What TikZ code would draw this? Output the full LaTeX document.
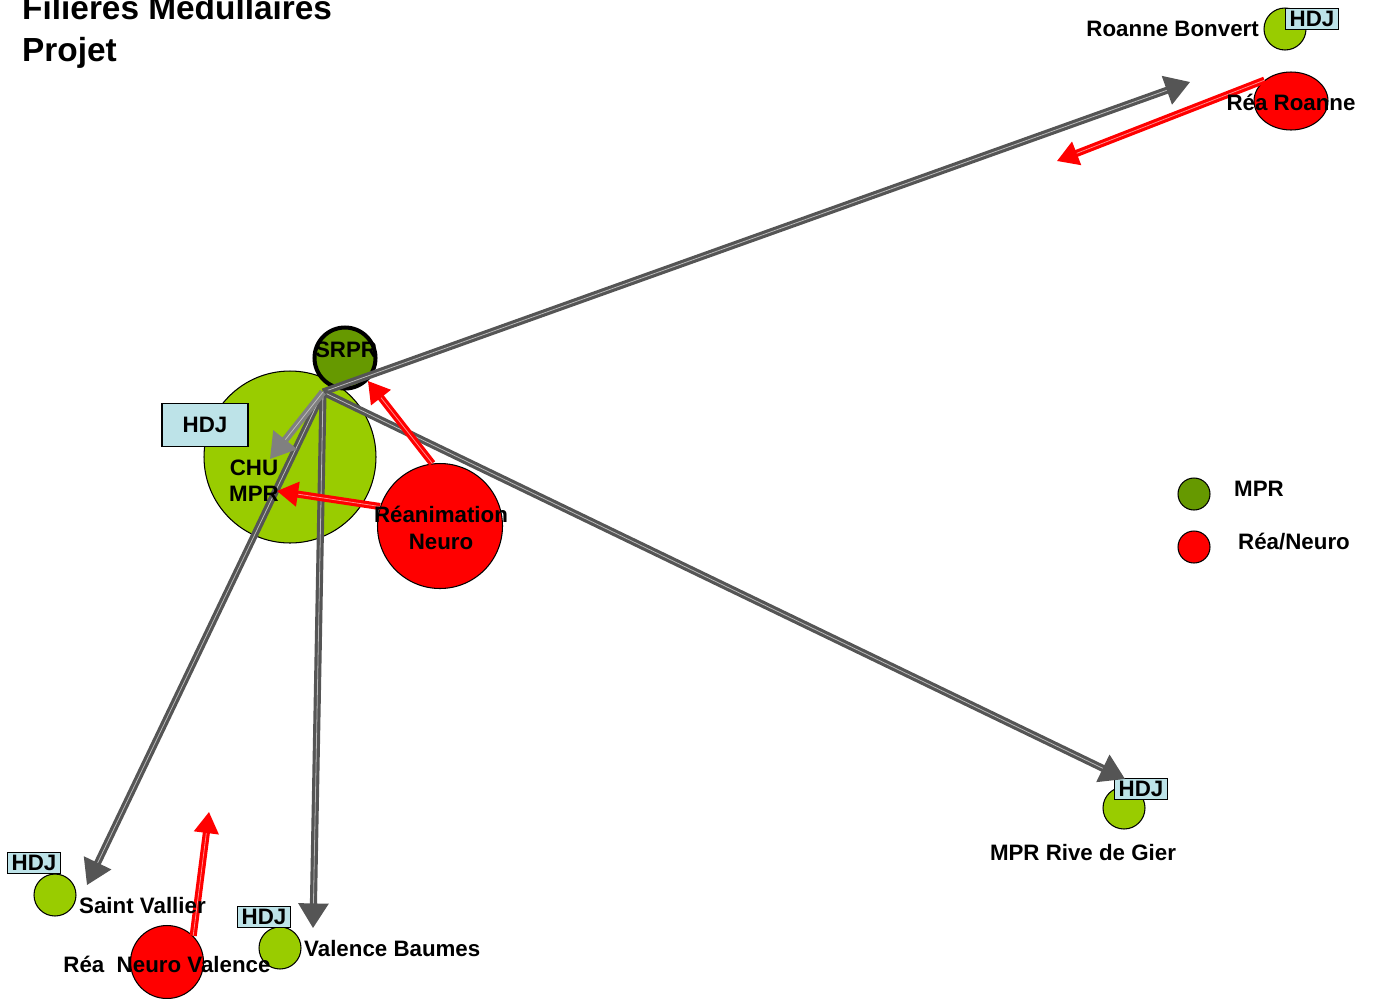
\documentclass[tikz,border=0pt]{standalone}
\usepackage{fontspec}
\setmainfont{Liberation Sans}
\usetikzlibrary{arrows.meta, shapes.geometric}
\definecolor{mprlight}{HTML}{99CC00}
\definecolor{mprdark}{HTML}{669900}
\definecolor{reared}{HTML}{FF0000}
\definecolor{hdjblue}{HTML}{BDE3E8}
\definecolor{arrowgray}{HTML}{555555}
\definecolor{arrowlight}{HTML}{808080}
\begin{document}
\begin{tikzpicture}[
    x=0.02cm,
    y=-0.02cm,
    font=\bfseries\fontsize{12.7}{15}\selectfont,
    site/.style={circle, draw, line width=0.6pt, inner sep=0pt},
    hdj/.style={draw, fill=hdjblue, line width=0.6pt, inner sep=0pt, minimum width=1.06cm, minimum height=0.41cm},
    flux/.style={draw=arrowgray, double=arrowgray!40, double distance=0.45pt, line width=1.8pt,
      -{Triangle[length=14pt, width=17pt]}},
    fluxrea/.style={draw=reared, double=reared!45!white, double distance=0.45pt, line width=1.8pt,
      -{Triangle[length=12pt, width=14pt]}}
  ]
  \useasboundingbox (0,0) rectangle (1378,998);
  % titre
  \node[anchor=base west, font=\bfseries\fontsize{19}{22}\selectfont] (titreA) at (16,19) {Filières Médullaires};
  \node[anchor=base west, font=\bfseries\fontsize{19}{22}\selectfont] (titreB) at (16,61) {Projet};

  % sites
  \node[site, fill=mprlight, minimum size=3.44cm] (chu) at (290,457) {};
  \node[site, fill=mprdark, line width=2.3pt, minimum size=1.22cm] (srpr) at (345,358) {};
  \node[site, fill=reared, minimum size=2.5cm] (reaNeuro) at (440,526) {};
  \node[site, fill=mprlight, minimum size=0.84cm] (roanne) at (1285,29) {};
  \node[ellipse, draw, fill=reared, line width=0.6pt, inner sep=0pt, minimum width=1.48cm, minimum height=1.16cm] (reaRoanne) at (1291,101) {};
  \node[site, fill=mprlight, minimum size=0.84cm] (vallier) at (55,895) {};
  \node[site, fill=mprlight, minimum size=0.84cm] (baumes) at (280,948) {};
  \node[site, fill=reared, minimum size=1.46cm] (reaValence) at (167,962) {};
  \node[site, fill=mprlight, minimum size=0.84cm] (gier) at (1124,808) {};

  \node[hdj, minimum width=1.72cm, minimum height=0.86cm] (hdjChu) at (205,425) {HDJ};
  \node[hdj] (hdjRoanne) at (1312,19) {HDJ};
  \node[hdj] (hdjVallier) at (34,863) {HDJ};
  \node[hdj] (hdjBaumes) at (264,917) {HDJ};
  \node[hdj] (hdjGier) at (1141,789) {HDJ};

  % flux
  \coordinate (hub) at (323,392);
  \coordinate (versRoanne) at (1190,82);
  \coordinate (versStEtienne) at (1057,161);
  \coordinate (versChu) at (270,459);
  \coordinate (chuIn) at (277,491);
  \coordinate (versVallier) at (87,885);
  \coordinate (versBaumes) at (313,928);
  \coordinate (versGier) at (1125,779);
  \coordinate (versNord) at (209,812);

  \draw[flux] (hub) -- (versRoanne);
  \draw[flux] (hub) -- (versGier);
  \draw[flux] (hub) -- (versVallier);
  \draw[flux] (hub) -- (versBaumes);
  \draw[flux, draw=arrowlight, double=arrowlight!50] (hub) -- (versChu);
  \draw[fluxrea] (reaRoanne.north west) -- (versStEtienne);
  \draw[fluxrea] (reaNeuro.97) -- (srpr.south east);
  \draw[fluxrea] (reaNeuro.162) -- (chuIn);
  \draw[fluxrea] (reaValence.north east) -- (versNord);

  % textes
  \node (tSrpr) at (346,350) {SRPR};
  \node[align=center] (tChu) at (254,481) {CHU\\MPR};
  \node[align=center] (tReaNeuro) at (441,528) {Réanimation\\Neuro};
  \node[anchor=east] (tRoanne) at (1265,29) {Roanne Bonvert};
  \node (tReaRoanne) at (1291,102) {Réa Roanne};
  \node[anchor=west] (tVallier) at (73,906) {Saint Vallier};
  \node[anchor=west] (tBaumes) at (298,949) {Valence Baumes};
  \node (tReaValence) at (167,964) {Réa~ Neuro Valence};
  \node (tGier) at (1083,853) {MPR Rive de Gier};

  % legende
  \node[site, fill=mprdark, minimum size=0.64cm] (legMpr) at (1194,494) {};
  \node[site, fill=reared, minimum size=0.64cm] (legRea) at (1194,547) {};
  \node[anchor=west] (tLegMpr) at (1228,489) {MPR};
  \node[anchor=west] (tLegRea) at (1232,542) {Réa/Neuro};
\end{tikzpicture}
\end{document}
